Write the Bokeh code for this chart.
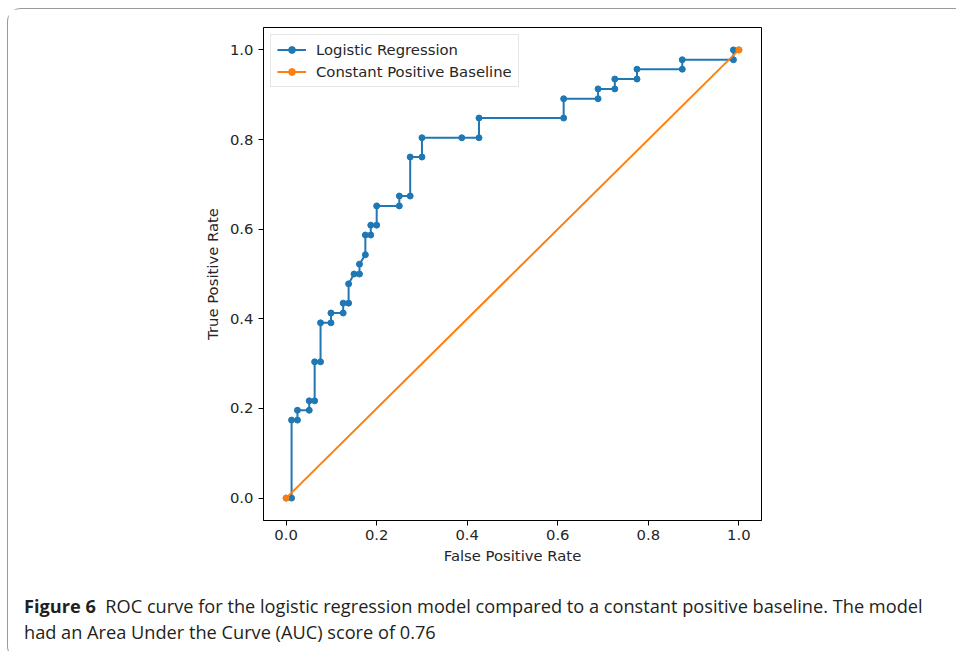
from bokeh.plotting import figure
from bokeh.layouts import column
from bokeh.models import Range1d, FixedTicker, PrintfTickFormatter, Legend, LegendItem, Div
from bokeh.embed import file_html
from bokeh.resources import INLINE

# ROC curve of the logistic regression model
lr_fpr = [0.0, 0.012, 0.012, 0.025, 0.025, 0.051, 0.051, 0.063, 0.063, 0.076,
          0.076, 0.099, 0.099, 0.126, 0.126, 0.138, 0.138, 0.150, 0.162, 0.162,
          0.175, 0.175, 0.187, 0.187, 0.200, 0.200, 0.250, 0.250, 0.274, 0.274,
          0.300, 0.300, 0.388, 0.426, 0.426, 0.613, 0.613, 0.689, 0.689, 0.726,
          0.726, 0.775, 0.775, 0.875, 0.875, 0.988, 0.988, 1.0]
lr_tpr = [0.0, 0.0, 0.174, 0.174, 0.196, 0.196, 0.217, 0.217, 0.304, 0.304,
          0.391, 0.391, 0.413, 0.413, 0.435, 0.435, 0.478, 0.500, 0.500, 0.522,
          0.543, 0.587, 0.587, 0.609, 0.609, 0.652, 0.652, 0.674, 0.674, 0.761,
          0.761, 0.804, 0.804, 0.804, 0.848, 0.848, 0.891, 0.891, 0.913, 0.913,
          0.935, 0.935, 0.957, 0.957, 0.978, 0.978, 1.0, 1.0]
# Constant positive baseline
base_fpr = [0.0, 1.0]
base_tpr = [0.0, 1.0]

ticks = [0.0, 0.2, 0.4, 0.6, 0.8, 1.0]
x_label = "False Positive Rate"
y_label = "True Positive Rate"
series_names = ["Logistic Regression", "Constant Positive Baseline"]
caption_bold = "Figure 6"
caption_line1 = "ROC curve for the logistic regression model compared to a constant positive baseline. The model"
caption_line2 = "had an Area Under the Curve (AUC) score of 0.76"

BLUE = "#1f77b4"
ORANGE = "#ff7f0e"
FONT = "DejaVu Sans"
FS = "14.8px"

W = 948
H1 = 560
BL, BR, BT = 255, 195, 18
BB = H1 - BT - 493

p = figure(width=W, height=H1, output_backend="svg", toolbar_location=None,
           title_location=None,
           x_range=Range1d(-0.05, 1.05), y_range=Range1d(-0.05, 1.05),
           min_border_left=BL, min_border_right=BR, min_border_top=BT, min_border_bottom=BB,
           background_fill_color="white", border_fill_color="white")

p.grid.visible = False
p.outline_line_color = "black"
p.outline_line_width = 1
p.outline_line_alpha = 1

for ax in (p.xaxis[0], p.yaxis[0]):
    ax.ticker = FixedTicker(ticks=ticks)
    ax.formatter = PrintfTickFormatter(format="%.1f")
    ax.minor_tick_line_color = None
    ax.major_tick_in = 0
    ax.major_tick_out = 5
    ax.major_tick_line_color = "black"
    ax.axis_line_color = "black"
    ax.major_label_text_font = FONT
    ax.major_label_text_font_size = FS
    ax.major_label_text_color = "#262626"
    ax.axis_label_text_font = FONT
    ax.axis_label_text_font_size = FS
    ax.axis_label_text_font_style = "normal"
    ax.axis_label_text_color = "#262626"

p.xaxis.axis_label = x_label
p.yaxis.axis_label = y_label
p.xaxis.major_label_standoff = 4
p.yaxis.major_label_standoff = 5
p.xaxis.axis_label_standoff = 4
p.yaxis.axis_label_standoff = 6

l1 = p.line(lr_fpr, lr_tpr, line_color=BLUE, line_width=2)
s1 = p.scatter(lr_fpr, lr_tpr, marker="circle", size=6, fill_color=BLUE, line_color=BLUE)
l2 = p.line(base_fpr, base_tpr, line_color=ORANGE, line_width=2)
s2 = p.scatter(base_fpr, base_tpr, marker="circle", size=6, fill_color=ORANGE, line_color=ORANGE)

legend = Legend(items=[LegendItem(label=series_names[0], renderers=[l1, s1]),
                       LegendItem(label=series_names[1], renderers=[l2, s2])],
                location="top_left", label_text_font=FONT, label_text_font_size=FS,
                label_text_color="#262626", glyph_width=29, glyph_height=17, label_height=17,
                spacing=5, padding=6, margin=7, label_standoff=10,
                border_line_color="#cccccc", border_line_width=1,
                background_fill_color="white", background_fill_alpha=0.8)
p.add_layout(legend)

caption_html = (
    '<div style="padding:19px 0 0 11px; font-family:\'Open Sans\'; font-size:18.2px; '
    'line-height:26px; color:#231f20; white-space:nowrap;">'
    f'<b>{caption_bold}</b>&nbsp;&nbsp;{caption_line1}<br>{caption_line2}</div>'
)
cap = Div(text=caption_html, width=W, height=80)

layout = column(p, cap, spacing=0)
layout.styles = {"margin-left": "7px", "margin-top": "8px",
                 "border-top": "1px solid #9a9a9a", "border-left": "1px solid #9a9a9a",
                 "border-bottom": "1px solid #9a9a9a",
                 "border-top-left-radius": "14px", "border-bottom-left-radius": "14px",
                 "background": "white"}

open("out.html", "w").write(file_html(layout, INLINE))
